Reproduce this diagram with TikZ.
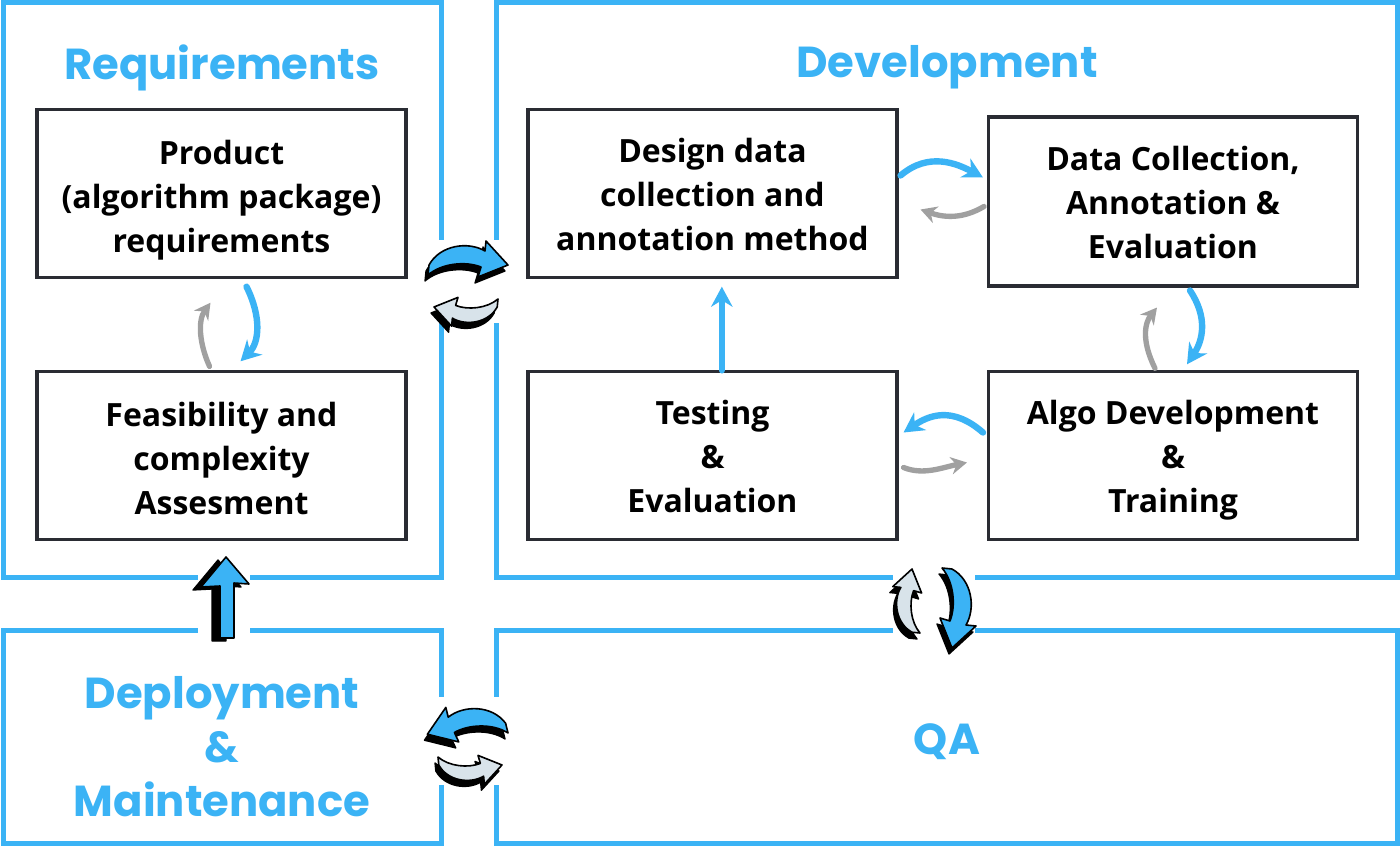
\documentclass[tikz,border=0pt]{standalone}
\usepackage{fontspec}
\setmainfont{Open Sans}
\newfontfamily\titlefont{Poppins}
\usetikzlibrary{arrows.meta,calc}
\definecolor{skyb}{HTML}{3BB3F5}
\definecolor{boxline}{HTML}{2A2C33}
\definecolor{greyarr}{HTML}{A0A0A0}
\definecolor{greyfill}{HTML}{D8E3EA}
\newcommand\topstrut{\rule{0pt}{29pt}}
\newcommand\tallstrut{\rule{0pt}{33pt}}
\tikzset{
  bend/.pic={\path[pic actions] (0,0) -- (1,-10) .. controls (12,-30) and (40,-34) .. (57,-24) -- (58,-34) -- (80,-10) -- (50,2) -- (53,-8) .. controls (38,-14) and (14,-12) .. cycle;},
  uparrow/.pic={\path[pic actions] (0,0) -- (23,27) -- (8,26) -- (8,81) -- (-6,81) -- (-6,29) -- (-25,30) -- cycle;}
}
\newcommand\barrow[3]{%
  \pic[fill=black, draw=black, line width=1pt, line join=round, shift={(-3,6)}, #2] at #1 {bend};
  \pic[fill=#3, draw=black, line width=1.2pt, line join=round, #2] at #1 {bend};}
\begin{document}
\begin{tikzpicture}[x=0.75pt,y=-0.75pt,
  panel/.style={draw=skyb, line width=3.75pt},
  title/.style={text=skyb, align=center, font=\titlefont\bfseries\fontsize{32.5}{40.5}\selectfont},
  stage/.style={draw=boxline, line width=2.3pt, fill=white, align=center, inner sep=0pt,
    font=\bfseries\fontsize{24}{33}\selectfont, minimum width=276.75pt, minimum height=125.5pt},
  flowb/.style={draw=skyb, line width=4.8pt, line cap=round, -{Stealth[length=15pt,width=16pt]}},
  flowg/.style={draw=greyarr, line width=4pt, line cap=round, -{Stealth[length=12pt,width=13pt]}},
  gap/.style={fill=white, draw=none}]
\useasboundingbox (0,0) rectangle (1400,849);
\fill[white] (0,0) rectangle (1400,849);
% panels
\draw[panel] (3,3) rectangle (441,577);
\draw[panel] (496,3) rectangle (1397,577);
\draw[panel] (3,630) rectangle (441,843);
\draw[panel] (496,630) rectangle (1397,843);
% gaps behind icons
\fill[gap] (424,240) rectangle (513,323);
\fill[gap] (424,697) rectangle (513,785);
\fill[gap] (893,558) rectangle (975,650);
\fill[gap] (198,556) rectangle (250,646);
% titles
\node[title] (treq) at (222,68) {Requirements};
\node[title] (tdev) at (947,67) {Development};
\node[title] (tdep) at (222,747) {Deployment\\\&\\Maintenance};
\node[title] (tqa) at (947,742) {QA};
% stages
\node[stage] (prod) at (221.5,193.5) {\tallstrut Product\\(algorithm package)\\requirements\strut};
\node[stage] (feas) at (221.5,455.5) {\tallstrut Feasibility and\\complexity\\Assesment\strut};
\node[stage] (design) at (712.5,193.5) {\topstrut Design data\\collection and\\annotation method\strut};
\node[stage, minimum height=126.75pt] (dcoll) at (1173,201.5) {\topstrut Data Collection,\\Annotation \&\\Evaluation\strut};
\node[stage] (test) at (712.5,455.5) {\topstrut Testing\\\&\\Evaluation\strut};
\node[stage] (algo) at (1173,455.5) {\topstrut Algo Development\\\&\\Training\strut};
% connectors
\draw[flowb] ($(prod.south)+(25,8)$) .. controls ($(prod.south)+(40,38)$) and ($(feas.north)+(38,-28)$) .. ($(feas.north)+(19,-9)$);
\draw[flowg] ($(feas.north)+(-12,-4)$) .. controls ($(feas.north)+(-22,-26)$) and ($(prod.south)+(-24,42)$) .. ($(prod.south)+(-11,24)$);
\draw[flowb] ($(design.east)+(2,-18)$) .. controls ($(design.east)+(30,-42)$) and ($(dcoll.west)+(-30,-38)$) .. ($(dcoll.west)+(-4,-24)$);
\draw[flowg] ($(dcoll.west)+(-3,5)$) .. controls ($(dcoll.west)+(-25,18)$) and ($(design.east)+(45,24)$) .. ($(design.east)+(22,16)$);
\draw[flowb] ($(dcoll.south)+(17,3)$) .. controls ($(dcoll.south)+(35,30)$) and ($(algo.north)+(30,-30)$) .. ($(algo.north)+(14,-6)$);
\draw[flowg] ($(algo.north)+(-18,-2)$) .. controls ($(algo.north)+(-32,-30)$) and ($(dcoll.south)+(-28,35)$) .. ($(dcoll.south)+(-16,20)$);
\draw[flowb] ($(algo.west)+(-4,-23)$) .. controls ($(algo.west)+(-35,-50)$) and ($(test.east)+(30,-40)$) .. ($(test.east)+(5,-23)$);
\draw[flowg] ($(test.east)+(5,12)$) .. controls ($(test.east)+(25,20)$) and ($(algo.west)+(-45,12)$) .. ($(algo.west)+(-20,7)$);
\draw[flowb] ([xshift=7pt]test.north) -- ([xshift=7pt,yshift=-6pt]design.south);
% block arrows between panels
\barrow{(428,275)}{}{skyb}
\barrow{(498,299)}{rotate=180, scale=0.8}{greyfill}
\barrow{(508,733)}{xscale=-1, rotate=-8}{skyb}
\barrow{(438,757)}{yscale=-1, scale=0.8}{greyfill}
\barrow{(920,633)}{rotate=90, scale=0.8}{greyfill}
\barrow{(942,568)}{rotate=-90}{skyb}
\pic[fill=black, draw=black, line width=1pt, line join=round] at (218,560) {uparrow};
\pic[fill=skyb, draw=black, line width=1.2pt, line join=round] at (226,557) {uparrow};
\end{tikzpicture}
\end{document}
